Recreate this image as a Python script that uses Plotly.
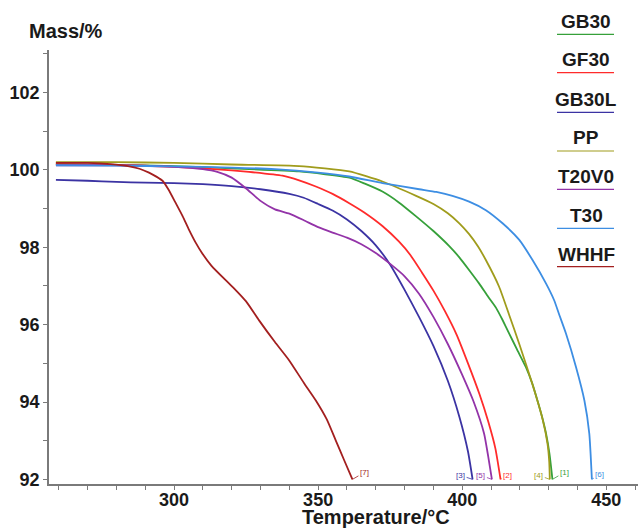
import plotly.graph_objects as go

# ---- data (temperature in °C, mass in %) ----
names = ["GB30", "GF30", "GB30L", "PP", "T20V0", "T30", "WHHF"]
end_labels = ["[1]", "[2]", "[3]", "[4]", "[5]", "[6]", "[7]"]
colors = ["#36a03a", "#ff2b2b", "#3b33a3", "#a09c1c", "#9333a8", "#3d8ee3", "#a31f1f"]

gb30_t = [259, 280, 300, 320, 343.4, 360.8, 366, 372.3, 378, 384, 390, 395.5, 399, 402.5, 405.9, 409, 411.7, 414, 416.3, 419, 422.1, 424.2, 426.1, 427.7, 429.1, 430.3, 431.3]
gb30_m = [100.15, 100.13, 100.1, 100.04, 99.96, 99.8, 99.65, 99.44, 99.16, 98.8, 98.42, 98.03, 97.74, 97.4, 97.06, 96.72, 96.44, 96.12, 95.77, 95.36, 94.9, 94.5, 94.04, 93.62, 93.18, 92.65, 92.0]

gf30_t = [259, 280, 300, 310, 320, 326, 337.6, 343.4, 349.2, 355, 360.8, 366, 372.3, 378, 382, 386, 390, 394, 398, 402, 406, 409, 411.5, 413.3]
gf30_m = [100.15, 100.13, 100.08, 100.04, 99.99, 99.95, 99.85, 99.73, 99.57, 99.38, 99.14, 98.9, 98.55, 98.15, 97.8, 97.35, 96.88, 96.35, 95.75, 95.0, 94.2, 93.5, 92.8, 92.0]

gb30l_t = [259, 270, 280, 290, 300, 310, 320, 330, 340, 345, 350, 355, 360, 365, 370, 375, 380, 385, 390, 395, 399, 402, 403.6]
gb30l_m = [99.74, 99.72, 99.69, 99.67, 99.66, 99.63, 99.58, 99.5, 99.38, 99.28, 99.12, 98.95, 98.72, 98.42, 98.05, 97.55, 96.9, 96.2, 95.45, 94.55, 93.62, 92.72, 92.0]

pp_t = [259, 280, 300, 320, 343.4, 360.8, 372.3, 384, 390, 395, 399, 402.4, 405.5, 408.2, 412.8, 416.3, 419.8, 424.4, 427.9, 429.6, 430.2, 430.4]
pp_m = [100.2, 100.2, 100.18, 100.14, 100.1, 99.96, 99.7, 99.33, 99.12, 98.88, 98.62, 98.34, 98.02, 97.67, 96.98, 96.25, 95.5, 94.45, 93.55, 92.92, 92.45, 92.0]

t20v0_t = [259, 280, 300, 310, 315, 320, 325, 330, 335, 340, 345, 350, 355, 360, 365, 370, 375, 380, 385, 390, 395, 400, 404, 407.6, 409, 410.3]
t20v0_m = [100.12, 100.12, 100.08, 100.02, 99.95, 99.8, 99.52, 99.2, 98.98, 98.87, 98.7, 98.52, 98.38, 98.25, 98.08, 97.85, 97.57, 97.25, 96.8, 96.2, 95.5, 94.7, 94.0, 93.18, 92.6, 92.0]

t30_t = [259, 280, 300, 320, 335, 350, 360.8, 372.3, 385.1, 391, 396.6, 402.4, 408.2, 414, 419.8, 424.4, 429.1, 431.9, 433.7, 436, 439.5, 442.4, 444.1, 445]
t30_m = [100.12, 100.11, 100.09, 100.06, 100.02, 99.93, 99.83, 99.66, 99.5, 99.43, 99.33, 99.18, 98.96, 98.62, 98.19, 97.67, 97.06, 96.63, 96.25, 95.77, 94.9, 94.04, 93.18, 92.0]

whhf_t = [259, 270, 278, 284, 288, 291.3, 294, 296, 298, 300.6, 303, 305.2, 307.5, 309.8, 313, 317.9, 320.8, 325, 329.5, 335, 339.9, 345, 349.2, 353, 356.1, 359, 361.9]
whhf_m = [100.18, 100.18, 100.15, 100.1, 100.03, 99.93, 99.82, 99.72, 99.5, 99.14, 98.8, 98.45, 98.12, 97.84, 97.52, 97.15, 96.94, 96.6, 96.11, 95.55, 95.08, 94.5, 94.04, 93.55, 93.01, 92.5, 92.0]

series_t = [gb30_t, gf30_t, gb30l_t, pp_t, t20v0_t, t30_t, whhf_t]
series_m = [gb30_m, gf30_m, gb30l_m, pp_m, t20v0_m, t30_m, whhf_m]

x_title = "Temperature/°C"
y_title = "Mass/%"

# ---- layout geometry (pixels) ----
W, H = 642, 530
L, R, T, B = 49, 4, 50, 46
PW, PH = W - L - R, H - T - B


def px(xp):
    return (xp - L) / PW


def py(yp):
    return (H - B - yp) / PH


fig = go.Figure()
for t, m, name, col in zip(series_t, series_m, names, colors):
    fig.add_trace(go.Scatter(x=t, y=m, mode="lines", name=name,
                             line=dict(color=col, width=1.8, shape="spline", smoothing=0.5),
                             showlegend=False))

# end-of-curve hook labels
offsets = [(12, -7), (7, -4), (-12, -4), (-11, -4), (-11, -4), (8, -5), (12, -7)]
annotations = []
for t, m, lab, col, (dx, dy) in zip(series_t, series_m, end_labels, colors, offsets):
    annotations.append(dict(x=t[-1], y=m[-1], xref="x", yref="y", text=lab,
                            showarrow=True, arrowhead=0, arrowwidth=0.8, arrowcolor=col,
                            ax=dx, ay=dy, standoff=0,
                            font=dict(family="Liberation Sans", size=8, color=col)))

# custom legend: text above a coloured line
leg_text_y = [21.7, 59.5, 99.7, 137.5, 176.7, 215.5, 254.7]
leg_line_y = [34.3, 72.7, 112.3, 151, 189.3, 228.3, 266.7]
shapes = []
for name, col, ty, ly in zip(names, colors, leg_text_y, leg_line_y):
    annotations.append(dict(x=px(586), y=py(ty), xref="paper", yref="paper", text=name,
                            showarrow=False, xanchor="center", yanchor="middle",
                            font=dict(family="Liberation Sans", size=19, color="#1a1a1a", weight="bold")))
    shapes.append(dict(type="line", xref="paper", yref="paper",
                       x0=px(557), x1=px(614), y0=py(ly), y1=py(ly),
                       line=dict(color=col, width=1.2)))

# axis titles
annotations.append(dict(x=px(66), y=py(31), xref="paper", yref="paper", text=y_title,
                        showarrow=False, xanchor="center", yanchor="middle",
                        font=dict(family="Liberation Sans", size=20, color="#1a1a1a", weight="bold")))
annotations.append(dict(x=px(376), y=py(517), xref="paper", yref="paper", text=x_title,
                        showarrow=False, xanchor="center", yanchor="middle",
                        font=dict(family="Liberation Sans", size=20, color="#1a1a1a", weight="bold")))

axis_common = dict(showgrid=False, zeroline=False, showline=True, linecolor="#7a7a7a", linewidth=1.5,
                   ticks="outside", ticklen=4, tickwidth=1, tickcolor="#7a7a7a",
                   tickfont=dict(family="Liberation Sans", size=18, color="#1a1a1a", weight="bold"))

fig.update_layout(
    width=W, height=H,
    margin=dict(l=L, r=R, t=T, b=B),
    paper_bgcolor="white", plot_bgcolor="white",
    xaxis=dict(range=[256.6, 461], tick0=300, dtick=50, ticklabelstandoff=-5,
               minor=dict(dtick=10, tick0=300, ticks="outside", ticklen=4, tickcolor="#7a7a7a"),
               **axis_common),
    yaxis=dict(range=[91.88, 103.1], tick0=92, dtick=2,
               minor=dict(dtick=1, tick0=92, ticks="outside", ticklen=4, tickcolor="#7a7a7a"),
               **axis_common),
    annotations=annotations,
    shapes=shapes,
)

fig.write_html("out.html", config={"displayModeBar": False},
               post_script="document.body.style.margin='0';document.body.style.overflow='hidden';")
